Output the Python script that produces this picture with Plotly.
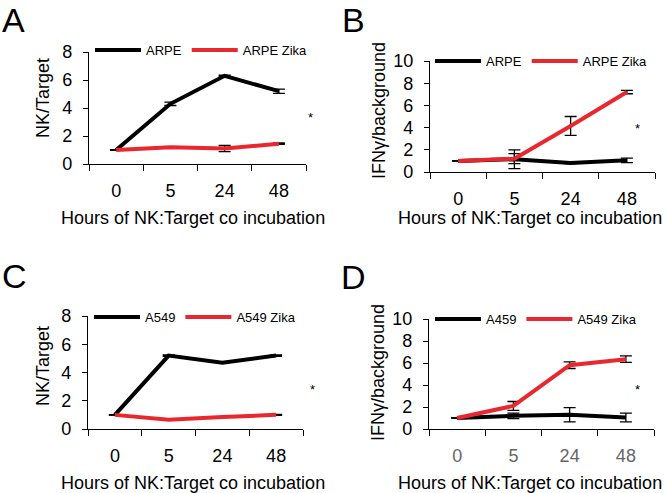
import plotly.graph_objects as go

W, H = 666, 493

hours = ["0", "5", "24", "48"]

# Panel A
a_arpe = [1.0, 4.3, 6.3, 5.2]
a_arpe_err = [0.02, 0.12, 0.05, 0.15]
a_zika = [1.0, 1.2, 1.1, 1.45]
a_zika_err = [0.02, 0.03, 0.22, 0.05]
# Panel B
b_arpe = [1.0, 1.15, 0.8, 1.05]
b_arpe_err = [0.02, 0.85, 0.05, 0.2]
b_zika = [1.0, 1.2, 4.15, 7.2]
b_zika_err = [0.02, 0.45, 0.85, 0.15]
# Panel C
c_a549 = [1.0, 5.2, 4.7, 5.2]
c_a549_err = [0.02, 0.05, 0.05, 0.05]
c_zika = [1.0, 0.65, 0.85, 1.0]
c_zika_err = [0.02, 0.03, 0.03, 0.03]
# Panel D
d_a459 = [1.0, 1.2, 1.3, 1.05]
d_a459_err = [0.02, 0.25, 0.65, 0.4]
d_zika = [1.0, 2.1, 5.8, 6.35]
d_zika_err = [0.02, 0.4, 0.3, 0.3]

BLACK = "#000000"
RED = "#e8282e"
FONT = "Liberation Sans, Arial, Helvetica, sans-serif"

panels = [
    dict(ax="", s=[("ARPE", a_arpe, a_arpe_err, BLACK), ("ARPE Zika", a_zika, a_zika_err, RED)],
         ymax=8, xd=(89, 306), yd=(164, 52), tickcolor="#000", lx=90, ly=50),
    dict(ax="2", s=[("ARPE", b_arpe, b_arpe_err, BLACK), ("ARPE Zika", b_zika, b_zika_err, RED)],
         ymax=10, xd=(430, 655), yd=(172, 61), tickcolor="#000", lx=430, ly=61),
    dict(ax="3", s=[("A549", c_a549, c_a549_err, BLACK), ("A549 Zika", c_zika, c_zika_err, RED)],
         ymax=8, xd=(88, 303), yd=(429, 316), tickcolor="#000", lx=89, ly=317),
    dict(ax="4", s=[("A459", d_a459, d_a459_err, BLACK), ("A549 Zika", d_zika, d_zika_err, RED)],
         ymax=10, xd=(429, 654), yd=(429, 319), tickcolor="#666", lx=430, ly=319),
]

fig = go.Figure()
layout = dict(
    width=W, height=H, margin=dict(l=0, r=0, t=0, b=0, autoexpand=False),
    paper_bgcolor="white", plot_bgcolor="white",
    font=dict(family=FONT, color="#000"),
    annotations=[],
)

for i, p in enumerate(panels):
    ax = p["ax"]
    leg = "legend" if ax == "" else "legend" + ax
    for name, vals, err, col in p["s"]:
        fig.add_trace(go.Scatter(
            x=hours, y=vals, name=name, mode="lines",
            line=dict(color=col, width=4),
            error_y=dict(type="data", array=err, visible=True, color="#000",
                         thickness=1.3, width=6),
            xaxis="x" + ax, yaxis="y" + ax, legend=leg, cliponaxis=False,
        ))
    x0, x1 = p["xd"]
    yb, yt = p["yd"]
    layout["xaxis" + ax] = dict(
        domain=[x0 / W, x1 / W], anchor="y" + ax, type="category",
        range=[-0.5, 3.5], tickson="boundaries", ticks="outside", ticklen=6,
        tickwidth=1.3, tickcolor="#000", showline=True, linecolor="#000", linewidth=1.3,
        showgrid=False, zeroline=False,
        tickfont=dict(size=18, color=p["tickcolor"], family=FONT), ticklabelstandoff=10,
    )
    layout["yaxis" + ax] = dict(
        domain=[1 - yb / H, 1 - yt / H], anchor="x" + ax,
        range=[0, p["ymax"]], dtick=2, ticks="outside", ticklen=5, tickwidth=1.3,
        tickcolor="#000", showline=True, linecolor="#000", linewidth=1.3,
        showgrid=False, zeroline=False,
        tickfont=dict(size=18, color="#000", family=FONT), ticklabelstandoff=7,
    )
    layout[leg] = dict(
        orientation="h", x=p["lx"] / W, y=1 - p["ly"] / H, xanchor="left", yanchor="middle",
        font=dict(size=13, family=FONT), bgcolor="rgba(0,0,0,0)", itemwidth=46,
        tracegroupgap=0, itemclick=False,
    )

ytitles = [("NK/Target", 43, 98), ("IFNγ/background", 379, 111),
           ("NK/Target", 43, 366), ("IFNγ/background", 378, 373)]
xtitles = [(193, 218), (530, 218), (193, 483), (530, 483)]
letters = [("A", 13, 0), ("B", 353, 0), ("C", 14, 256), ("D", 353, 257)]
stars = [(310, 118), (637, 128), (312, 389), (637, 389)]

for t, x, y in ytitles:
    layout["annotations"].append(dict(text=t, x=x / W, y=1 - y / H, xref="paper", yref="paper",
                                      showarrow=False, textangle=-90, xanchor="center",
                                      yanchor="middle", font=dict(size=18, family=FONT)))
for x, y in xtitles:
    layout["annotations"].append(dict(text="Hours of NK:Target co incubation", x=x / W, y=1 - y / H,
                                      xref="paper", yref="paper", showarrow=False,
                                      xanchor="center", yanchor="middle",
                                      font=dict(size=18, family=FONT)))
for t, x, y in letters:
    layout["annotations"].append(dict(text=t, x=x / W, y=1 - y / H, xref="paper", yref="paper",
                                      showarrow=False, xanchor="center", yanchor="top",
                                      borderpad=0, font=dict(size=34, family=FONT)))
for x, y in stars:
    layout["annotations"].append(dict(text="*", x=x / W, y=1 - y / H, xref="paper", yref="paper",
                                      showarrow=False, xanchor="center", yanchor="middle",
                                      font=dict(size=13, family=FONT)))

fig.update_layout(**layout)
fig.write_html("out.html", config={"displayModeBar": False},
               post_script="document.body.style.margin='0';")
